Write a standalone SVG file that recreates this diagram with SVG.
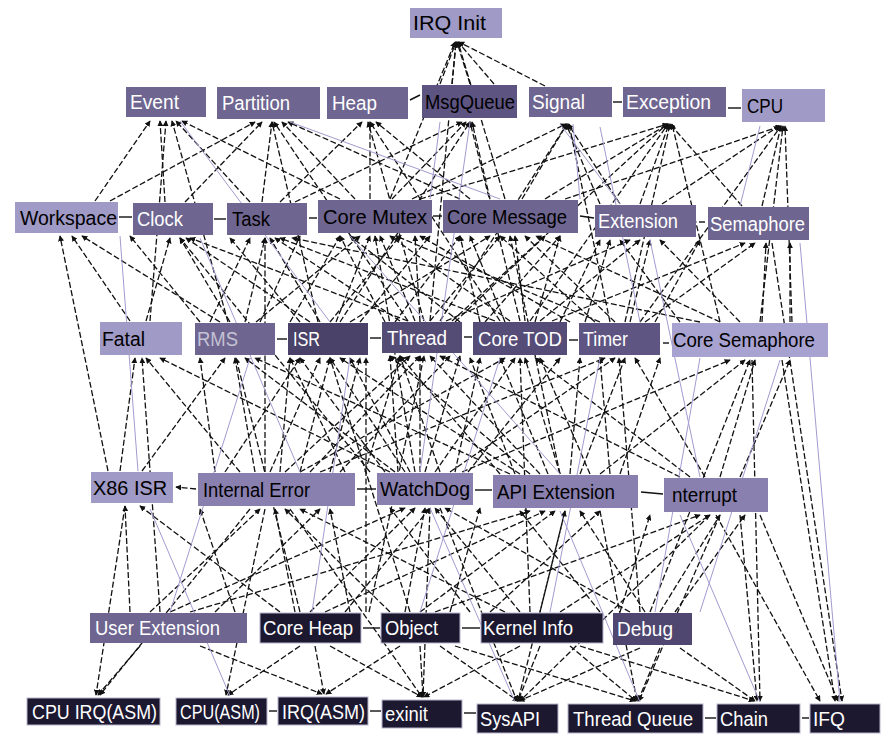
<svg xmlns="http://www.w3.org/2000/svg" width="881" height="734" viewBox="0 0 881 734">
<style>
.bg{fill:#ffffff}
.e{stroke:#111;stroke-width:1.3;stroke-dasharray:6 2.5;fill:none;marker-end:url(#a)}
.s{stroke:#111;stroke-width:1.4;fill:none}
.l{stroke:#a49ad0;stroke-width:1;fill:none}
.lt{fill:#a09ac6}
.ml{fill:#8a80b0}
.md{fill:#6e6590}
.dk{fill:#524a76}
.vd{fill:#1c1830;stroke:#b8b4cc;stroke-width:1}
text{font-family:"Liberation Sans",Arial,sans-serif;font-size:20px}
.w{fill:#ffffff}
.g{fill:#c4c2d4}
.b{fill:#000000}
</style>
<defs>
<marker id="a" viewBox="0 0 8 8" refX="7" refY="4" markerWidth="6" markerHeight="6" orient="auto" markerUnits="userSpaceOnUse"><path d="M0,0 L8,4 L0,8 z" fill="#111"/></marker>
</defs>
<rect class="bg" x="0" y="0" width="881" height="734"/>
<g id="connectors">
<path class="e" d="M440 84 L456 42"/><path class="e" d="M452 84 L456 42"/><path class="e" d="M470 84 L457 42"/><path class="e" d="M494 84 L458 42"/>
<path class="e" d="M390 199 L455 42"/><path class="e" d="M505 199 L458 42"/><path class="e" d="M430 321 L456 42"/><path class="e" d="M545 86 L459 42"/>
<path class="e" d="M165 202 L160 121"/><path class="e" d="M185 202 L262 122"/><path class="e" d="M250 202 L176 121"/><path class="e" d="M262 202 L272 122"/>
<path class="e" d="M280 202 L362 122"/><path class="e" d="M295 202 L462 122"/><path class="e" d="M340 199 L182 121"/><path class="e" d="M355 199 L282 122"/>
<path class="e" d="M370 199 L370 122"/><path class="e" d="M392 199 L466 122"/><path class="e" d="M412 199 L566 124"/><path class="e" d="M470 199 L376 122"/>
<path class="e" d="M490 199 L472 122"/><path class="e" d="M522 199 L567 124"/><path class="e" d="M545 199 L668 124"/><path class="e" d="M460 199 L288 122"/>
<path class="e" d="M620 204 L568 124"/><path class="e" d="M640 204 L669 124"/><path class="e" d="M662 204 L779 126"/><path class="e" d="M742 206 L670 124"/>
<path class="e" d="M762 206 L781 126"/><path class="e" d="M95 201 L150 121"/><path class="e" d="M110 201 L255 122"/><path class="e" d="M420 199 L668 124"/>
<path class="e" d="M565 199 L781 126"/><path class="e" d="M600 204 L566 124"/>
<path class="e" d="M228 322 L172 121"/><path class="e" d="M150 321 L166 121"/><path class="e" d="M318 322 L272 122"/><path class="e" d="M408 321 L274 122"/>
<path class="e" d="M424 321 L368 122"/><path class="e" d="M500 321 L370 122"/><path class="e" d="M340 322 L470 122"/><path class="e" d="M520 321 L470 122"/>
<path class="e" d="M440 321 L567 124"/><path class="e" d="M610 322 L569 124"/><path class="e" d="M530 321 L668 124"/><path class="e" d="M452 321 L667 124"/>
<path class="e" d="M625 322 L670 124"/><path class="e" d="M640 322 L781 126"/><path class="e" d="M760 322 L783 126"/><path class="e" d="M792 322 L785 126"/>
<path class="e" d="M720 322 L672 124"/>
<path class="e" d="M130 321 L72 236"/><path class="e" d="M146 321 L170 238"/><path class="e" d="M220 322 L82 236"/><path class="e" d="M230 322 L180 238"/>
<path class="e" d="M245 322 L265 238"/><path class="e" d="M256 322 L360 236"/><path class="e" d="M310 322 L186 238"/><path class="e" d="M320 322 L270 238"/>
<path class="e" d="M336 322 L370 236"/><path class="e" d="M350 322 L490 236"/><path class="e" d="M400 321 L275 238"/><path class="e" d="M415 321 L380 236"/>
<path class="e" d="M430 321 L500 236"/><path class="e" d="M446 321 L630 240"/><path class="e" d="M408 321 L190 238"/><path class="e" d="M495 321 L280 238"/>
<path class="e" d="M510 321 L390 236"/><path class="e" d="M525 321 L515 236"/><path class="e" d="M540 321 L640 240"/><path class="e" d="M552 321 L745 243"/>
<path class="e" d="M600 322 L396 236"/><path class="e" d="M615 322 L525 236"/><path class="e" d="M630 322 L650 240"/><path class="e" d="M645 322 L755 243"/>
<path class="e" d="M720 322 L536 236"/><path class="e" d="M740 322 L660 240"/><path class="e" d="M762 322 L766 243"/><path class="e" d="M700 322 L292 238"/>
<path class="e" d="M790 322 L790 243"/>
<path class="e" d="M260 322 L300 236"/><path class="e" d="M290 322 L340 236"/><path class="e" d="M300 322 L230 238"/><path class="e" d="M330 322 L400 236"/>
<path class="e" d="M360 322 L430 236"/><path class="e" d="M385 322 L340 236"/><path class="e" d="M395 322 L460 236"/><path class="e" d="M420 322 L415 236"/>
<path class="e" d="M455 322 L545 236"/><path class="e" d="M460 322 L350 236"/><path class="e" d="M480 322 L460 236"/><path class="e" d="M485 322 L560 236"/>
<path class="e" d="M505 322 L470 236"/><path class="e" d="M535 322 L560 236"/><path class="e" d="M560 322 L600 240"/><path class="e" d="M570 322 L420 236"/>
<path class="e" d="M585 322 L610 240"/><path class="e" d="M595 322 L500 236"/><path class="e" d="M655 322 L700 240"/><path class="e" d="M680 322 L620 240"/>
<path class="e" d="M200 322 L130 236"/><path class="e" d="M210 322 L250 238"/>
<path class="e" d="M120 471 L135 358"/><path class="e" d="M142 471 L225 358"/><path class="e" d="M108 471 L60 236"/><path class="e" d="M240 472 L146 358"/>
<path class="e" d="M255 472 L235 358"/><path class="e" d="M270 472 L320 358"/><path class="e" d="M285 472 L410 356"/><path class="e" d="M300 472 L505 358"/>
<path class="e" d="M320 472 L605 358"/><path class="e" d="M395 472 L245 358"/><path class="e" d="M405 472 L330 358"/><path class="e" d="M420 472 L420 356"/>
<path class="e" d="M435 472 L515 358"/><path class="e" d="M450 472 L615 358"/><path class="e" d="M462 472 L730 360"/><path class="e" d="M390 472 L160 358"/>
<path class="e" d="M520 474 L340 358"/><path class="e" d="M540 474 L430 356"/><path class="e" d="M560 474 L525 358"/><path class="e" d="M580 474 L625 358"/>
<path class="e" d="M600 474 L745 360"/><path class="e" d="M510 474 L255 358"/><path class="e" d="M690 477 L535 358"/><path class="e" d="M705 477 L635 358"/>
<path class="e" d="M720 477 L755 360"/><path class="e" d="M680 477 L440 356"/><path class="e" d="M740 477 L790 360"/>
<path class="e" d="M300 472 L330 358"/><path class="e" d="M310 472 L420 356"/><path class="e" d="M330 472 L360 358"/><path class="e" d="M340 472 L450 356"/>
<path class="e" d="M345 472 L290 358"/><path class="e" d="M365 472 L400 356"/><path class="e" d="M385 472 L300 358"/><path class="e" d="M398 472 L390 356"/>
<path class="e" d="M410 472 L350 358"/><path class="e" d="M425 472 L460 356"/><path class="e" d="M440 472 L400 356"/><path class="e" d="M455 472 L480 358"/>
<path class="e" d="M468 472 L560 358"/><path class="e" d="M500 474 L400 356"/><path class="e" d="M515 474 L470 358"/><path class="e" d="M530 474 L390 356"/>
<path class="e" d="M548 474 L500 358"/><path class="e" d="M570 474 L580 358"/><path class="e" d="M590 474 L540 358"/><path class="e" d="M610 474 L600 358"/>
<path class="e" d="M620 474 L660 358"/><path class="e" d="M280 472 L290 358"/><path class="e" d="M225 472 L300 358"/><path class="e" d="M215 472 L200 358"/>
<path class="e" d="M265 472 L265 238"/><path class="e" d="M415 472 L375 236"/><path class="e" d="M560 474 L510 236"/><path class="e" d="M370 472 L180 238"/>
<path class="e" d="M130 612 L125 506"/><path class="e" d="M150 612 L260 509"/><path class="e" d="M170 612 L405 508"/><path class="e" d="M190 612 L530 511"/>
<path class="e" d="M280 612 L140 506"/><path class="e" d="M295 612 L275 509"/><path class="e" d="M310 612 L415 508"/><path class="e" d="M325 612 L545 511"/>
<path class="e" d="M390 612 L285 509"/><path class="e" d="M405 612 L425 508"/><path class="e" d="M420 612 L555 511"/><path class="e" d="M435 612 L700 515"/>
<path class="e" d="M505 612 L300 509"/><path class="e" d="M520 612 L435 508"/><path class="e" d="M540 612 L565 511"/><path class="e" d="M560 612 L710 515"/>
<path class="e" d="M630 612 L445 508"/><path class="e" d="M645 612 L580 511"/><path class="e" d="M660 612 L720 515"/><path class="e" d="M675 612 L745 515"/>
<path class="e" d="M350 612 L330 509"/><path class="e" d="M450 612 L480 508"/><path class="e" d="M470 612 L390 508"/><path class="e" d="M490 612 L600 511"/>
<path class="e" d="M600 612 L520 511"/><path class="e" d="M345 612 L430 508"/><path class="e" d="M215 612 L320 509"/><path class="e" d="M235 612 L200 509"/>
<path class="e" d="M620 612 L650 515"/>
<path class="e" d="M410 612 L330 358"/><path class="e" d="M366 612 L366 358"/><path class="e" d="M369 612 L424 356"/><path class="e" d="M300 612 L236 358"/>
<path class="e" d="M160 612 L142 358"/><path class="e" d="M530 612 L520 358"/><path class="e" d="M640 612 L619 358"/><path class="e" d="M650 612 L750 360"/>
<path class="e" d="M752 360 L760 701"/><path class="e" d="M782 360 L835 701"/><path class="e" d="M772 243 L842 701"/><path class="e" d="M716 515 L820 701"/>
<path class="e" d="M140 646 L98 695"/><path class="e" d="M250 509 L100 695"/><path class="e" d="M125 506 L96 695"/><path class="e" d="M300 646 L228 695"/>
<path class="e" d="M265 509 L226 695"/><path class="e" d="M200 646 L322 694"/><path class="e" d="M315 646 L324 694"/><path class="e" d="M400 646 L326 694"/>
<path class="e" d="M420 646 L423 697"/><path class="e" d="M330 646 L422 697"/><path class="e" d="M520 646 L424 697"/><path class="e" d="M430 508 L423 697"/>
<path class="e" d="M290 509 L422 697"/><path class="e" d="M440 646 L518 701"/><path class="e" d="M540 646 L518 701"/><path class="e" d="M640 648 L519 701"/>
<path class="e" d="M565 511 L518 701"/><path class="e" d="M440 508 L517 701"/><path class="e" d="M710 515 L520 701"/><path class="e" d="M570 646 L636 701"/>
<path class="e" d="M660 648 L638 701"/><path class="e" d="M600 511 L637 701"/><path class="e" d="M720 515 L639 701"/><path class="e" d="M455 646 L635 701"/>
<path class="e" d="M680 648 L755 701"/><path class="e" d="M740 515 L757 701"/><path class="e" d="M580 646 L754 701"/><path class="e" d="M760 515 L838 701"/>
<path class="s" d="M119 217 L132 217"/><path class="s" d="M214 219 L226 219"/><path class="s" d="M309 218 L317 218"/><path class="s" d="M433 216 L442 216"/>
<path class="s" d="M580 216 L594 218"/><path class="s" d="M699 222 L705 222"/><path class="s" d="M613 102 L622 102"/><path class="s" d="M728 108 L741 108"/>
<path class="s" d="M410 100 L420 95"/><path class="s" d="M277 339 L287 339"/><path class="s" d="M370 338 L381 338"/><path class="s" d="M464 337 L472 337"/>
<path class="s" d="M569 340 L578 340"/><path class="s" d="M663 343 L669 343"/><path class="e" d="M196 489 L176 487"/><path class="s" d="M357 489 L376 489"/>
<path class="s" d="M475 490 L492 490"/><path class="s" d="M641 492 L663 494"/><path class="s" d="M363 628 L380 628"/><path class="s" d="M462 628 L480 628"/>
<path class="s" d="M269 711 L277 711"/><path class="s" d="M370 711 L381 711"/><path class="s" d="M464 713 L476 713"/><path class="s" d="M705 718 L716 718"/>
<path class="s" d="M802 718 L809 718"/>
<path class="l" d="M180 121 L330 322"/><path class="l" d="M290 122 L500 199"/><path class="l" d="M560 124 L620 204"/><path class="l" d="M600 127 L640 322"/>
<path class="l" d="M470 122 L420 472"/><path class="l" d="M350 236 L560 474"/><path class="l" d="M200 238 L300 472"/><path class="l" d="M650 240 L700 477"/>
<path class="l" d="M500 358 L420 612"/><path class="l" d="M700 358 L655 612"/><path class="l" d="M250 358 L170 612"/><path class="l" d="M560 511 L640 702"/>
<path class="l" d="M430 508 L515 702"/><path class="l" d="M150 509 L230 696"/><path class="l" d="M680 515 L760 702"/><path class="l" d="M800 243 L840 702"/>
<path class="l" d="M760 126 L740 206"/><path class="l" d="M573 124 L580 199"/><path class="l" d="M120 236 L138 471"/><path class="l" d="M600 358 L550 612"/>
<path class="l" d="M350 358 L312 612"/><path class="l" d="M440 122 L430 199"/><path class="l" d="M780 360 L700 612"/>
</g>
<g id="n-irq-init"><rect class="lt" x="410" y="8" width="92" height="30"/><text class="b" x="413" y="30" textLength="73" lengthAdjust="spacingAndGlyphs">IRQ Init</text></g>
<g id="n-event"><rect class="md" x="126" y="87" width="80" height="30"/><text class="w" x="130" y="109" textLength="49" lengthAdjust="spacingAndGlyphs">Event</text></g>
<g id="n-partition"><rect class="md" x="217" y="87" width="103" height="32"/><text class="w" x="222" y="110" textLength="68" lengthAdjust="spacingAndGlyphs">Partition</text></g>
<g id="n-heap"><rect class="md" x="327" y="87" width="81" height="32"/><text class="w" x="332" y="110" textLength="45" lengthAdjust="spacingAndGlyphs">Heap</text></g>
<g id="n-msgqueue"><rect fill="#5e5482" x="422" y="85" width="95" height="33"/><text class="b" x="425" y="108.5" textLength="90" lengthAdjust="spacingAndGlyphs">MsgQueue</text></g>
<g id="n-signal"><rect class="md" x="529" y="87" width="83" height="30"/><text class="w" x="532" y="109" textLength="53" lengthAdjust="spacingAndGlyphs">Signal</text></g>
<g id="n-exception"><rect class="md" x="623" y="87" width="103" height="30"/><text class="w" x="626" y="109" textLength="85" lengthAdjust="spacingAndGlyphs">Exception</text></g>
<g id="n-cpu"><rect class="lt" x="742" y="89" width="83" height="33"/><text class="b" x="747" y="112.5" textLength="36" lengthAdjust="spacingAndGlyphs">CPU</text></g>
<g id="n-workspace"><rect class="lt" x="15" y="202" width="103" height="31"/><text class="b" x="20" y="224.5" textLength="97" lengthAdjust="spacingAndGlyphs">Workspace</text></g>
<g id="n-clock"><rect class="md" x="133" y="203" width="80" height="32"/><text class="w" x="137" y="226" textLength="46" lengthAdjust="spacingAndGlyphs">Clock</text></g>
<g id="n-task"><rect class="md" x="227" y="203" width="80" height="32"/><text class="b" x="232" y="226" textLength="38" lengthAdjust="spacingAndGlyphs">Task</text></g>
<g id="n-core-mutex"><rect class="md" x="318" y="200" width="114" height="33"/><text class="b" x="323" y="223.5" textLength="104" lengthAdjust="spacingAndGlyphs">Core Mutex</text></g>
<g id="n-core-message"><rect class="md" x="443" y="200" width="135" height="33"/><text class="b" x="447" y="223.5" textLength="120" lengthAdjust="spacingAndGlyphs">Core Message</text></g>
<g id="n-extension"><rect class="md" x="595" y="205" width="101" height="32"/><text class="w" x="598" y="228" textLength="80" lengthAdjust="spacingAndGlyphs">Extension</text></g>
<g id="n-semaphore"><rect class="md" x="708" y="207" width="101" height="33"/><text class="w" x="710" y="230.5" textLength="95" lengthAdjust="spacingAndGlyphs">Semaphore</text></g>
<g id="n-fatal"><rect class="lt" x="100" y="322" width="82" height="33"/><text class="b" x="102" y="345.5" textLength="43" lengthAdjust="spacingAndGlyphs">Fatal</text></g>
<g id="n-rms"><rect class="md" x="195" y="323" width="80" height="32"/><text class="g" x="197" y="346" textLength="41" lengthAdjust="spacingAndGlyphs">RMS</text></g>
<g id="n-isr"><rect fill="#4a4268" x="288" y="323" width="80" height="32"/><text class="w" x="293" y="346" textLength="27" lengthAdjust="spacingAndGlyphs">ISR</text></g>
<g id="n-thread"><rect fill="#554c75" x="382" y="322" width="80" height="31"/><text class="w" x="387" y="344.5" textLength="60" lengthAdjust="spacingAndGlyphs">Thread</text></g>
<g id="n-core-tod"><rect fill="#554c78" x="473" y="322" width="94" height="33"/><text class="w" x="478" y="345.5" textLength="84" lengthAdjust="spacingAndGlyphs">Core TOD</text></g>
<g id="n-timer"><rect fill="#5e5582" x="579" y="323" width="81" height="32"/><text class="w" x="583" y="346" textLength="45" lengthAdjust="spacingAndGlyphs">Timer</text></g>
<g id="n-core-semaphore"><rect fill="#a8a2d0" x="672" y="323" width="156" height="34"/><text class="b" x="673" y="347" textLength="142" lengthAdjust="spacingAndGlyphs">Core Semaphore</text></g>
<g id="n-x86-isr"><rect class="lt" x="91" y="472" width="82" height="31"/><text class="b" x="93" y="494.5" textLength="74" lengthAdjust="spacingAndGlyphs">X86 ISR</text></g>
<g id="n-internal-error"><rect class="ml" x="198" y="473" width="157" height="33"/><text class="b" x="203" y="496.5" textLength="107" lengthAdjust="spacingAndGlyphs">Internal Error</text></g>
<g id="n-watchdog"><rect class="ml" x="377" y="473" width="96" height="32"/><text class="b" x="380" y="496" textLength="90" lengthAdjust="spacingAndGlyphs">WatchDog</text></g>
<g id="n-api-extension"><rect class="ml" x="493" y="475" width="145" height="33"/><text class="b" x="497" y="498.5" textLength="118" lengthAdjust="spacingAndGlyphs">API Extension</text></g>
<g id="n-interrupt"><rect class="ml" x="664" y="478" width="104" height="34"/><text class="b" x="672" y="502" textLength="65" lengthAdjust="spacingAndGlyphs">nterrupt</text></g>
<g id="n-user-extension"><rect class="md" x="90" y="613" width="157" height="30"/><text class="w" x="95" y="635" textLength="125" lengthAdjust="spacingAndGlyphs">User Extension</text></g>
<g id="n-core-heap"><rect class="vd" x="260" y="613" width="101" height="30"/><text class="w" x="263" y="635" textLength="90" lengthAdjust="spacingAndGlyphs">Core Heap</text></g>
<g id="n-object"><rect class="vd" x="381" y="613" width="79" height="30"/><text class="w" x="385" y="635" textLength="53" lengthAdjust="spacingAndGlyphs">Object</text></g>
<g id="n-kernel-info"><rect class="vd" x="481" y="613" width="122" height="30"/><text class="w" x="483" y="635" textLength="90" lengthAdjust="spacingAndGlyphs">Kernel Info</text></g>
<g id="n-debug"><rect fill="#4f4770" x="613" y="613" width="79" height="32"/><text class="w" x="617" y="636" textLength="56" lengthAdjust="spacingAndGlyphs">Debug</text></g>
<g id="n-cpu-irq-asm"><rect class="vd" x="27" y="698" width="133" height="27"/><text class="w" x="32" y="719" textLength="125" lengthAdjust="spacingAndGlyphs">CPU IRQ(ASM)</text></g>
<g id="n-cpu-asm"><rect class="vd" x="176" y="698" width="91" height="27"/><text class="w" x="180" y="719" textLength="80" lengthAdjust="spacingAndGlyphs">CPU(ASM)</text></g>
<g id="n-irq-asm"><rect class="vd" x="278" y="697" width="90" height="28"/><text class="w" x="282" y="719" textLength="83" lengthAdjust="spacingAndGlyphs">IRQ(ASM)</text></g>
<g id="n-exinit"><rect class="vd" x="382" y="700" width="80" height="28"/><text class="w" x="385" y="721" textLength="43" lengthAdjust="spacingAndGlyphs">exinit</text></g>
<g id="n-sysapi"><rect class="vd" x="477" y="704" width="81" height="29"/><text class="w" x="480" y="726" textLength="60" lengthAdjust="spacingAndGlyphs">SysAPI</text></g>
<g id="n-thread-queue"><rect class="vd" x="568" y="704" width="135" height="29"/><text class="w" x="573" y="726" textLength="120" lengthAdjust="spacingAndGlyphs">Thread Queue</text></g>
<g id="n-chain"><rect class="vd" x="717" y="704" width="83" height="29"/><text class="w" x="720" y="726" textLength="48" lengthAdjust="spacingAndGlyphs">Chain</text></g>
<g id="n-ifq"><rect class="vd" x="810" y="704" width="70" height="29"/><text class="w" x="813" y="726" textLength="32" lengthAdjust="spacingAndGlyphs">IFQ</text></g>
</svg>
